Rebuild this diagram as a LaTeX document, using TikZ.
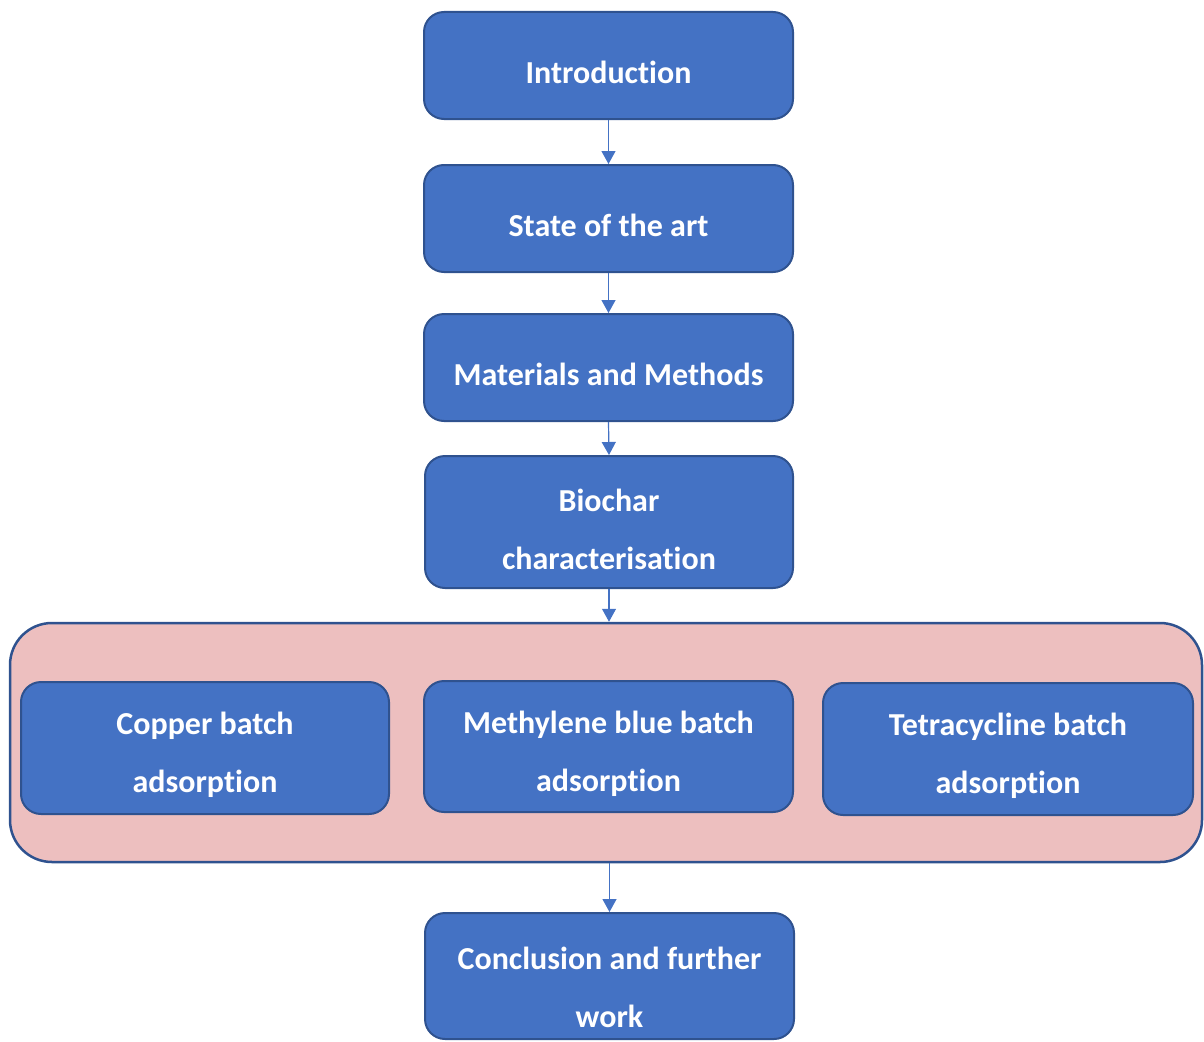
\documentclass[tikz,border=0pt]{standalone}
\usepackage{fontspec}
\setmainfont{Carlito}[Ligatures=NoCommon]
\usetikzlibrary{arrows.meta}
\definecolor{boxfill}{HTML}{4472C4}
\definecolor{boxline}{HTML}{2F528F}
\definecolor{pinkfill}{HTML}{EDBFBF}
\tikzset{
  box/.style={draw=boxline, fill=boxfill, line width=2pt, rounded corners=20pt,
    inner sep=0pt},
  txt/.style={text=white, font=\bfseries\fontsize{32}{58}\selectfont, align=center,
    inner sep=0pt, yshift=-7pt},
  groupbox/.style={draw=boxline, fill=pinkfill, line width=2.5pt, rounded corners=42pt, inner sep=0pt},
  arr/.style={draw=boxfill, line width=1.2pt, -{Triangle[width=14pt,length=13pt]}}
}
\begin{document}
\begin{tikzpicture}[x=1pt,y=-1pt]
\useasboundingbox (0,0) rectangle (1204,1041);
\node[groupbox, minimum width=1192pt, minimum height=239pt] (grp) at (606,742.5) {};
\node[box, minimum width=369pt, minimum height=107pt, label={[txt]center:Introduction}] (intro) at (608.5,65.5) {};
\node[box, minimum width=369pt, minimum height=107pt, label={[txt]center:State of the art}] (state) at (608.5,218.5) {};
\node[box, minimum width=369pt, minimum height=107pt, label={[txt]center:Materials and Methods}] (mat) at (608.5,367.5) {};
\node[box, minimum width=368pt, minimum height=132pt, label={[txt]center:Biochar\\characterisation}] (bio) at (609,522) {};
\node[box, minimum width=368pt, minimum height=132pt, label={[txt]center:Copper batch\\adsorption}] (cu) at (205,748) {};
\node[box, minimum width=369pt, minimum height=131pt, label={[txt]center:Methylene blue batch\\adsorption}] (mb) at (608.5,746.5) {};
\node[box, minimum width=370pt, minimum height=132pt, label={[txt]center:Tetracycline batch\\adsorption}] (tc) at (1008,749) {};
\node[box, minimum width=369pt, minimum height=126pt, label={[txt, yshift=-4pt]center:Conclusion and further\\work}] (conc) at (609.5,976) {};
\draw[arr] (intro.south) -- (state.north);
\draw[arr] (state.south) -- (mat.north);
\draw[arr] (mat.south) -- (bio.north);
\draw[arr] (bio.south) -- (bio.south |- grp.north);
\draw[arr] (grp.south -| conc.north) -- (conc.north);
\end{tikzpicture}
\end{document}
